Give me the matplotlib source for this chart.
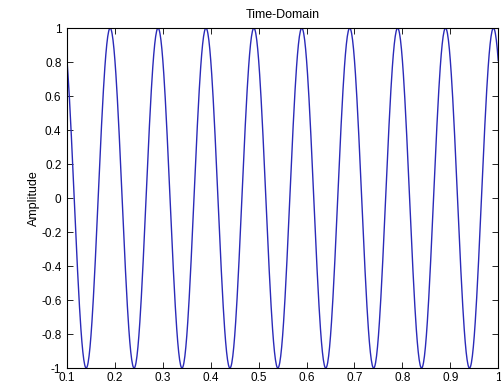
import numpy as np
import matplotlib.pyplot as plt

# signal: 10 Hz tone, unit amplitude, first crest at t=0.19
t_start, t_end, t_step = 0.1, 1.0, 0.001
freq = 10.0
amplitude = 1.0
first_peak = 0.19

xticks = [0.1, 0.2, 0.3, 0.4, 0.5, 0.6, 0.7, 0.8, 0.9, 1]
xtick_labels = ["0.1", "0.2", "0.3", "0.4", "0.5", "0.6", "0.7", "0.8", "0.9", "1"]
yticks = [-1, -0.8, -0.6, -0.4, -0.2, 0, 0.2, 0.4, 0.6, 0.8, 1]
ytick_labels = ["-1", "-0.8", "-0.6", "-0.4", "-0.2", "0", "0.2", "0.4", "0.6", "0.8", "1"]

t = np.arange(t_start, t_end + t_step / 2, t_step)
x = amplitude * np.cos(2 * np.pi * freq * (t - first_peak))

plt.rcParams['font.family'] = ['Liberation Sans', 'DejaVu Sans']
plt.rcParams['font.size'] = 8.5

fig = plt.figure(figsize=(5.02, 3.85), dpi=100)
ax = fig.add_axes([0.1335, 0.044, 0.859, 0.883])
ax.plot(t, x, color='#2a2ab8', lw=1.0)

ax.set_xlim(t_start, t_end)
ax.set_ylim(-1, 1)
ax.set_xticks(xticks)
ax.set_xticklabels(xtick_labels)
ax.set_yticks(yticks)
ax.set_yticklabels(ytick_labels)
ax.tick_params(direction='in', length=4, width=0.6, top=True, right=True)
ax.tick_params(axis='x', pad=3)
ax.tick_params(axis='y', pad=4)
for s in ax.spines.values():
    s.set_linewidth(0.8)

ax.set_title("Time-Domain", fontsize=9, pad=7)
ax.set_ylabel("Amplitude", fontsize=9, labelpad=1)

fig.savefig("out.png", dpi=100)
